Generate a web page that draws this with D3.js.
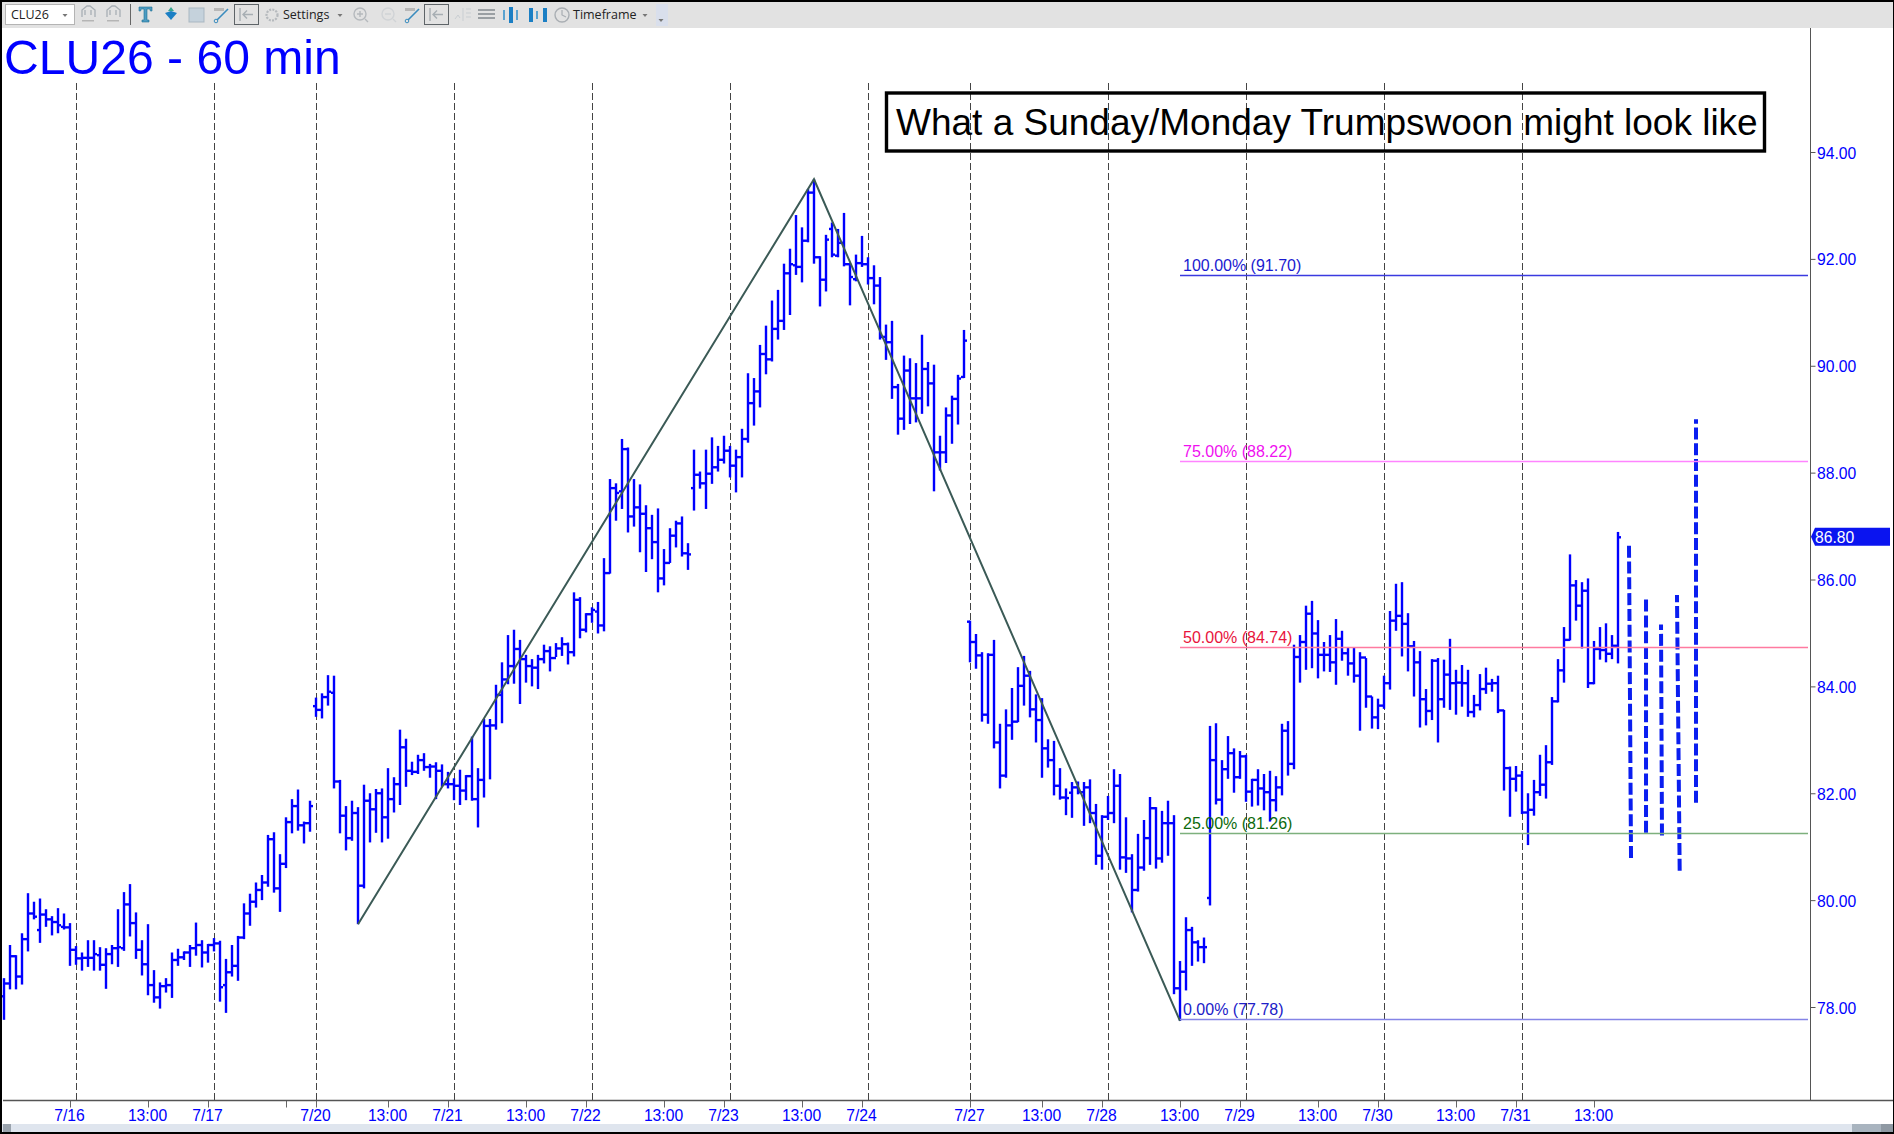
<!DOCTYPE html>
<html><head><meta charset="utf-8">
<script src="https://cdn.jsdelivr.net/npm/d3@7/dist/d3.min.js"></script>
<style>html,body{margin:0;padding:0;background:#fff;overflow:hidden}svg{display:block}text{font-family:"Liberation Sans",Arial,sans-serif}</style>
</head><body><svg id="c" width="1894" height="1134"></svg>
<script>
const highs=[78.54,79.16,78.97,79.38,80.13,79.97,80.03,79.83,79.70,79.85,79.75,79.57,79.14,79.02,79.25,79.25,79.12,79.10,79.16,79.83,
80.15,80.30,79.77,79.25,79.55,78.69,78.46,78.54,79.02,79.09,79.04,79.16,79.58,79.25,79.18,79.29,79.24,78.90,79.16,79.33,
79.94,80.12,80.33,80.47,81.22,81.27,80.86,81.55,81.89,82.07,81.47,81.86,83.79,83.87,84.21,84.20,82.25,81.76,81.86,81.74,
82.16,82.00,82.08,82.09,82.47,82.30,83.19,83.02,82.59,82.72,82.75,82.55,82.58,82.54,82.40,82.28,82.44,82.34,83.06,82.47,
83.39,83.39,84.03,84.45,84.96,85.06,84.87,84.59,84.51,84.59,84.78,84.75,84.81,84.92,84.82,85.76,85.67,85.37,85.48,85.58,
86.40,87.88,87.80,88.63,88.47,87.88,87.78,87.39,87.21,87.33,86.57,86.96,87.10,87.18,86.68,88.43,88.02,88.43,88.66,88.50,
88.69,88.50,88.43,88.82,89.86,89.77,90.39,90.75,91.22,91.42,91.91,92.19,92.82,92.59,93.31,93.49,92.05,92.45,92.68,92.56,
92.86,91.92,92.08,92.43,92.03,91.88,91.66,90.77,90.84,89.66,90.19,90.14,90.05,90.58,90.07,90.02,88.69,89.22,89.44,89.83,
90.67,85.23,84.98,84.64,84.62,84.87,83.30,83.57,83.97,84.36,84.57,84.29,83.85,83.78,83.01,82.98,82.47,82.09,82.21,82.22,
82.21,82.26,81.80,81.59,81.95,82.45,82.36,81.55,80.86,81.24,81.50,81.93,81.74,81.67,81.86,81.59,78.86,79.68,79.50,79.25,
79.30,83.26,83.31,82.62,83.07,82.84,82.79,82.72,82.27,82.45,82.36,82.42,82.32,83.30,83.35,84.78,84.96,85.51,85.60,85.24,
84.83,84.96,85.26,85.04,84.73,84.73,84.64,84.53,83.81,83.77,84.20,85.41,85.92,85.95,85.37,84.85,84.66,83.95,84.51,84.53,
84.50,84.89,84.31,84.40,84.31,83.84,84.23,84.35,84.14,84.20,83.56,82.50,82.51,82.42,82.00,82.25,82.72,82.90,83.80,84.51,
85.11,86.47,85.99,85.95,86.02,84.85,85.11,85.18,84.96,86.89];
const lows=[77.76,78.33,78.33,78.42,79.04,79.64,79.20,79.50,79.34,79.38,79.45,78.77,78.79,78.68,78.75,78.68,78.68,78.34,78.80,78.75,
79.05,79.32,78.90,78.59,78.22,78.08,77.97,78.27,78.17,78.77,78.88,78.75,78.96,78.74,78.83,79.04,78.10,77.89,78.57,78.49,
79.27,79.52,79.86,80.00,80.25,80.14,79.78,80.60,81.25,81.30,81.06,81.28,83.43,83.40,83.64,82.09,81.25,80.93,81.11,79.55,
80.22,81.08,81.26,81.08,81.15,81.64,81.78,82.12,82.34,82.36,82.42,82.29,81.89,82.12,82.09,81.87,81.78,81.87,81.86,81.36,
81.92,82.26,83.19,83.31,84.04,84.05,83.67,84.07,84.00,83.95,84.43,84.28,84.55,84.57,84.41,84.56,84.90,85.01,85.19,84.99,
85.03,86.11,87.10,87.32,86.88,86.99,86.51,86.14,86.38,85.76,85.89,86.31,86.60,86.43,86.18,87.29,87.70,87.32,87.79,88.02,
88.17,87.91,87.63,87.91,88.56,88.88,89.22,89.84,90.08,90.49,90.67,90.95,91.70,91.56,92.31,91.91,91.11,91.39,92.03,92.03,
91.86,91.13,91.58,91.85,91.52,91.15,90.49,90.11,89.38,88.71,88.80,88.91,88.94,89.10,89.24,87.65,88.04,88.18,88.54,88.90,
89.77,84.45,84.33,83.34,83.30,82.84,82.09,82.29,83.00,83.33,83.64,83.42,82.95,82.29,82.48,81.96,81.88,81.59,81.54,81.98,
81.39,81.44,80.66,80.57,81.50,81.44,80.57,80.51,79.77,80.16,80.55,80.66,80.59,80.70,80.83,78.24,77.74,78.31,78.77,78.85,
78.82,79.90,81.79,81.58,82.27,82.01,82.27,81.84,81.75,81.77,81.68,81.47,81.66,81.96,82.33,82.45,84.07,84.31,84.34,84.15,
84.28,84.27,84.03,84.48,84.20,84.07,83.17,83.60,83.21,83.20,83.58,83.94,85.04,84.56,84.28,83.81,83.23,83.27,83.37,82.95,
83.60,83.56,83.47,83.62,83.43,83.42,83.55,83.86,83.90,83.50,82.05,81.56,82.03,81.61,81.03,81.58,81.95,81.90,82.53,83.70,
84.07,84.86,85.23,84.71,83.97,84.04,84.50,84.45,84.51,84.43];
const opens=[78.20,78.44,78.95,78.57,79.27,79.75,79.44,79.73,79.64,79.59,79.50,79.49,79.07,78.91,78.92,78.92,78.97,78.79,78.99,79.10,
79.10,79.92,79.57,79.07,78.80,78.41,78.18,78.39,78.41,78.88,78.93,79.02,79.10,79.16,79.02,79.16,79.19,78.41,78.65,78.77,
79.30,79.75,79.97,80.19,80.33,81.14,80.22,80.68,81.46,81.76,81.40,81.44,83.63,83.56,83.80,83.88,82.22,81.58,81.16,81.63,
80.27,81.86,81.70,82.00,81.55,81.89,82.17,82.86,82.42,82.40,82.62,82.49,82.50,82.42,82.17,82.17,82.14,82.05,82.32,81.89,
82.25,83.26,83.27,83.84,84.13,84.38,84.70,84.51,84.38,84.35,84.51,84.66,84.53,84.71,84.79,84.64,85.62,85.06,85.35,85.40,
85.14,86.12,87.71,87.65,88.44,87.18,87.35,87.23,86.96,86.70,86.02,86.31,86.82,87.05,86.49,87.71,87.96,87.80,87.98,88.10,
88.24,88.41,88.13,88.29,88.63,89.30,89.52,90.22,90.12,90.69,90.84,91.73,91.88,91.85,92.34,93.24,92.03,91.61,92.56,92.06,
92.30,91.90,91.62,91.92,91.90,91.64,91.50,90.54,90.44,89.60,89.01,89.91,89.39,89.39,89.94,89.67,88.38,88.38,89.07,89.38,
89.79,85.21,84.83,84.58,83.47,84.59,82.95,82.33,83.27,83.34,84.01,84.20,83.57,83.37,82.84,82.62,82.14,81.92,82.01,82.11,
82.02,82.11,81.63,80.83,81.56,81.63,82.14,80.80,80.78,80.19,80.61,81.16,81.72,80.78,81.44,81.44,78.35,78.66,79.44,79.21,
79.12,80.04,82.62,81.88,82.45,82.75,82.30,82.69,82.03,82.25,82.09,82.02,81.87,82.11,83.17,82.55,84.55,84.83,85.36,84.99,
84.59,84.59,84.45,84.89,84.62,84.43,84.20,84.54,83.81,83.42,83.64,84.06,85.23,85.32,85.17,84.75,84.45,83.76,83.54,84.48,
83.76,84.22,84.06,84.07,84.06,83.52,83.65,83.95,84.05,84.06,83.55,82.47,82.27,82.33,81.64,81.69,82.02,82.16,82.58,83.72,
84.30,84.87,85.89,85.51,85.79,84.06,84.70,84.68,84.61,84.76];
const closes=[78.44,78.95,78.57,79.27,79.75,79.69,79.73,79.64,79.59,79.53,79.49,79.07,78.91,78.92,78.92,78.99,78.79,78.99,79.10,79.12,
79.92,79.57,79.07,78.80,78.41,78.18,78.39,78.41,78.88,78.93,79.02,79.10,79.16,79.02,79.16,79.19,78.37,78.65,78.77,79.30,
79.75,79.97,80.19,80.33,81.14,80.22,80.68,81.46,81.76,81.40,81.44,81.76,83.56,83.80,83.90,82.22,81.58,81.16,81.63,80.27,
81.86,81.70,82.00,81.55,81.89,82.17,82.86,82.42,82.40,82.62,82.49,82.50,82.42,82.17,82.17,82.14,82.05,82.32,81.89,82.25,
83.26,83.27,83.84,84.13,84.38,84.70,84.51,84.38,84.35,84.51,84.66,84.53,84.71,84.79,84.64,85.62,85.06,85.35,85.43,85.14,
86.12,87.71,87.62,88.44,87.18,87.35,87.23,86.96,86.70,86.02,86.31,86.82,87.05,86.49,86.47,87.96,87.80,87.98,88.10,88.24,
88.41,88.13,88.29,88.63,89.30,89.52,90.22,90.12,90.69,90.84,91.73,91.90,91.85,92.34,93.24,92.03,91.61,92.36,92.08,92.30,
91.90,91.66,91.92,91.90,91.64,91.50,90.54,90.44,89.60,89.01,89.91,89.39,89.39,89.94,89.67,88.38,88.38,89.07,89.38,89.76,
90.47,84.83,84.58,83.47,84.59,82.95,82.33,83.27,83.34,84.01,84.20,83.57,83.37,82.84,82.62,82.14,81.92,81.91,82.11,82.02,
82.11,81.63,80.83,81.56,81.63,82.14,80.80,80.78,80.19,80.61,81.16,81.72,80.78,81.44,81.44,78.35,78.66,79.44,79.21,79.12,
79.12,82.62,81.88,82.45,82.75,82.30,82.69,82.03,82.25,82.09,82.02,81.87,82.11,83.17,82.55,84.55,84.83,85.36,84.99,84.59,
84.59,84.45,84.89,84.62,84.43,84.20,84.54,83.81,83.42,83.64,84.06,85.23,85.32,85.17,84.75,84.45,83.76,83.54,84.48,83.76,
84.22,84.06,84.07,84.06,83.52,83.65,83.95,84.05,84.06,83.55,82.47,82.27,82.33,81.64,81.69,82.02,82.16,82.58,83.72,84.30,
84.87,85.89,85.51,85.79,84.06,84.70,84.68,84.61,84.76,86.79];
const priceTicks=[78,80,82,84,86,88,90,92,94];
const timeTickBars=[11,24,34,47,52,64,74,87,97,110,120,133,143,161,173,183,196,206,219,229,242,252,265];
const timeTickLabels=["7/16","13:00","7/17","","7/20","13:00","7/21","13:00","7/22","13:00","7/23","13:00","7/24","7/27","13:00","7/28","13:00","7/29","13:00","7/30","13:00","7/31","13:00"];
const sessionBars=[12,35,52,75,98,121,144,161,184,207,230,253];
const fibPct=["0.00%","25.00%","50.00%","75.00%","100.00%"];
const fibVal=[77.78,81.26,84.74,88.22,91.70];
const fibLine=["#8484e6","#7db07d","#ff7aa0","#ff84ff","#3a3ae0"];
const fibText=["#2020c8","#0c6a0c","#e8143c","#f010f0","#1a1ad0"];
const swingBars=[59,135,196];
const swingPrices=[79.55,93.49,77.74];
const projTopBar=[270.83,273.67,276.17,278.83,282];
const projBotBar=[271.17,273.67,276.33,279.28,282];
const projHigh=[86.66,85.64,85.16,85.71,89.00];
const projLow=[80.79,81.26,81.21,80.55,81.82];
const lastPrice=86.80;

const svg=d3.select("#c");
const x=d3.scaleLinear().domain([0,269]).range([4,1618]);
const y=d3.scaleLinear().domain([78,94]).range([1007,152]);
const BLUE="#0000ff";

// toolbar and frame
svg.append("rect").attr("width",1894).attr("height",28).attr("fill","#e2e2e2");
const tb=svg.append("g");
tb.append("rect").attr("x",656).attr("y",4).attr("width",12).attr("height",22).attr("fill","#d9dfec");
tb.append("rect").attr("x",5.5).attr("y",4.5).attr("width",69).attr("height",20).attr("fill","#fff").attr("stroke","#b4b4b4");
const tbText=(s,px,col)=>tb.append("text").attr("x",px).attr("y",19).attr("font-size",12.5).attr("fill",col||"#222").style("font-family","'Open Sans',sans-serif").text(s);
tbText("CLU26",11);
tbText("Settings",283);
tbText("Timeframe",573);
[65,340,645,661].forEach(a=>tb.append("path").attr("d",`M${a-2.5} ${a===661?19:14}h5l-2.5 3z`).attr("fill","#777"));
[88,113].forEach(a=>{tb.append("path").attr("d",`M${a-6} 17v-7l5-4h3l5 4v7M${a-3} 15v-5M${a+3} 15v-5`).attr("fill","none").attr("stroke","#a8afb5").attr("stroke-width",1.3);tb.append("rect").attr("x",a-6).attr("y",20).attr("width",12).attr("height",1.5).attr("fill","#b5b5b5");});
tb.append("rect").attr("x",130).attr("y",4).attr("width",1).attr("height",21).attr("fill","#666");
tb.append("path").attr("d","M139 7h13v4h-1.6l-.6-2h-2.8v11h2v2h-7v-2h2V9h-2.8l-.6 2H139z").attr("fill","#4d9cc2").attr("stroke","#1d6f96").attr("stroke-width",.6);
tb.append("path").attr("d","M165 13l6-2 6 2-6 7z").attr("fill","#1b7fc4");
tb.append("path").attr("d","M168 11l3-4 3 4z").attr("fill","#37a58f");
tb.append("rect").attr("x",189).attr("y",8).attr("width",15).attr("height",14).attr("fill","#c5d2dc").attr("stroke","#a9b7c2");
[221,412].forEach(a=>{tb.append("path").attr("d",`M${a-7} 8h10v3h-10z`).attr("fill","#b8b8b8");tb.append("path").attr("d",`M${a+7} 9l-11 11`).attr("stroke","#3a8cbe").attr("stroke-width",1.6);tb.append("circle").attr("cx",a-5).attr("cy",21).attr("r",1.8).attr("fill","none").attr("stroke","#3a8cbe");});
[234,424].forEach(a=>{tb.append("rect").attr("x",a+.5).attr("y",4.5).attr("width",24).attr("height",20).attr("fill","none").attr("stroke","#5e6468");tb.append("path").attr("d",`M${a+6} 8v13M${a+9} 14.5h10M${a+13} 10.5l-4 4 4 4`).attr("fill","none").attr("stroke","#a7aeb3").attr("stroke-width",1.4);});
tb.append("circle").attr("cx",272).attr("cy",15).attr("r",5.5).attr("fill","none").attr("stroke","#b5b9bd").attr("stroke-width",2.2).attr("stroke-dasharray","2 1.2");
[[360,"M357 14h6M360 11v6"],[388,"M385 14h6"]].forEach(([a,p],k)=>{tb.append("circle").attr("cx",a).attr("cy",14).attr("r",6).attr("fill","none").attr("stroke",k?"#d0d3d6":"#b5b9bd").attr("stroke-width",1.4);tb.append("path").attr("d",p+`M${a+5} 19l3 3`).attr("fill","none").attr("stroke",k?"#d0d3d6":"#b5b9bd").attr("stroke-width",1.4);});
tb.append("path").attr("d","M455 19l3-4 2 3M463 8v13M466 9h5M466 13h5M466 17h5").attr("fill","none").attr("stroke","#c9ced2").attr("stroke-width",1);
tb.append("path").attr("d","M478 10h17M478 14h17M478 18h17").attr("stroke","#9a9fa3").attr("stroke-width",2);
[[503,2,"#5aa3d0",10],[509,4,"#1b7fc4",16],[516,2,"#5aa3d0",10],[529,4,"#1b7fc4",14],[536,2,"#5aa3d0",8],[543,4,"#1b7fc4",14]].forEach(([a,w,c,h])=>tb.append("rect").attr("x",a).attr("y",15-h/2).attr("width",w).attr("height",h).attr("fill",c));
tb.append("circle").attr("cx",562).attr("cy",15).attr("r",7).attr("fill","none").attr("stroke","#a9aeb3").attr("stroke-width",1.4);
tb.append("path").attr("d","M562 10v5l4 2").attr("fill","none").attr("stroke","#a9aeb3").attr("stroke-width",1.2);

// scrollbar
svg.append("rect").attr("x",0).attr("y",1124).attr("width",1894).attr("height",8).attr("fill","#dfe5ee");
svg.append("rect").attr("x",3).attr("y",1124).attr("width",8).attr("height",8).attr("fill","#9aa3ad");
svg.append("rect").attr("x",1852).attr("y",1124).attr("width",29).attr("height",8).attr("fill","#a9b4bf");
svg.append("rect").attr("x",1881).attr("y",1124).attr("width",12).attr("height",8).attr("fill","#8f99a3");

// session separators
svg.append("g").selectAll("line").data(sessionBars).join("line")
 .attr("x1",d=>x(d)+.5).attr("x2",d=>x(d)+.5).attr("y1",83).attr("y2",1100)
 .attr("stroke","#444").attr("stroke-width",1).attr("stroke-dasharray","7 3");

// axes
const yAxis=d3.axisRight(y).tickValues(priceTicks).tickFormat(d3.format(".2f")).tickSize(5).tickSizeOuter(0);
const gy=svg.append("g").attr("transform","translate(1810.5,0)").call(yAxis);
gy.select(".domain").remove();
svg.append("line").attr("x1",1810.5).attr("x2",1810.5).attr("y1",28).attr("y2",1100).attr("stroke","#555");
gy.selectAll(".tick line").attr("stroke","#555");
gy.selectAll(".tick text").attr("x",6.5).attr("y",1).attr("fill",BLUE).attr("font-size",15.7).style("font-family","'Liberation Sans',Arial,sans-serif");

const xAxis=d3.axisBottom(x).tickValues(timeTickBars).tickFormat((d,k)=>timeTickLabels[k]).tickSize(7).tickSizeOuter(0);
const gx=svg.append("g").attr("transform","translate(0,1100.5)").call(xAxis);
gx.select(".domain").remove();
svg.append("line").attr("x1",3).attr("x2",1893).attr("y1",1100.5).attr("y2",1100.5).attr("stroke","#555").attr("stroke-width",1.4);
gx.selectAll(".tick line").attr("stroke","#666");
gx.selectAll(".tick text").attr("y",9).attr("dx",-1).attr("fill",BLUE).attr("font-size",15.7).style("font-family","'Liberation Sans',Arial,sans-serif");

// OHLC bars
const rows=d3.range(highs.length);
const bars=svg.append("g").attr("stroke",BLUE).attr("stroke-width",2.4);
bars.selectAll(".st").data(rows).join("line").attr("class","st").attr("x1",i=>x(i)).attr("x2",i=>x(i)).attr("y1",i=>y(highs[i])).attr("y2",i=>y(lows[i]));
bars.selectAll(".op").data(rows).join("line").attr("class","op").attr("x1",i=>x(i)-3).attr("x2",i=>x(i)).attr("y1",i=>y(opens[i])).attr("y2",i=>y(opens[i]));
bars.selectAll(".cl").data(rows).join("line").attr("class","cl").attr("x1",i=>x(i)).attr("x2",i=>x(i)+3).attr("y1",i=>y(closes[i])).attr("y2",i=>y(closes[i]));

// projected dashed bars (drawn from the bottom up)
svg.append("g").selectAll("line").data(d3.range(projHigh.length)).join("line")
 .attr("x1",i=>x(projBotBar[i])).attr("x2",i=>x(projTopBar[i])).attr("y1",i=>y(projLow[i])).attr("y2",i=>y(projHigh[i]))
 .attr("stroke","#0a1ef0").attr("stroke-width",4).attr("stroke-dasharray","12 3.8");

// swing line
svg.append("path").datum(d3.range(swingBars.length))
 .attr("d",d3.line().x(i=>x(swingBars[i])).y(i=>y(swingPrices[i])))
 .attr("fill","none").attr("stroke","#3b5a56").attr("stroke-width",2);

// fib levels
const fx0=x(swingBars[2]);
const fib=svg.append("g").selectAll("g").data(d3.range(fibVal.length)).join("g");
fib.append("line").attr("x1",fx0).attr("x2",1808).attr("y1",i=>Math.round(y(fibVal[i]))+.5).attr("y2",i=>Math.round(y(fibVal[i]))+.5)
 .attr("stroke",i=>fibLine[i]).attr("stroke-width",1.6);
fib.append("text").attr("x",fx0+3).attr("y",i=>y(fibVal[i])-3.8).attr("font-size",16).attr("fill",i=>fibText[i])
 .text(i=>`${fibPct[i]} (${fibVal[i].toFixed(2)})`);

// last price tag
const ly=y(lastPrice);
svg.append("path").attr("d",`M1811 ${ly}L1815 ${ly-9}H1890V${ly+9}H1815Z`).attr("fill","#0a14f0");
svg.append("text").attr("x",1815).attr("y",ly+6).attr("font-size",15.7).attr("fill","#fff").text(d3.format(".2f")(lastPrice));

// title and annotation
svg.append("text").attr("x",4).attr("y",74).attr("font-size",48.1).attr("fill",BLUE).text("CLU26 - 60 min");
svg.append("rect").attr("x",886.5).attr("y",93).attr("width",878).attr("height",58).attr("fill","none").attr("stroke","#000").attr("stroke-width",3.4);
svg.append("text").attr("x",896).attr("y",135).attr("font-size",37).attr("fill","#000").text("What a Sunday/Monday Trumpswoon might look like");

// window frame
[[0,0,1894,2],[0,0,2,1134],[1893,0,1,1134],[0,1132,1894,2]].forEach(([a,b,w,h])=>svg.append("rect").attr("x",a).attr("y",b).attr("width",w).attr("height",h).attr("fill","#000"));
</script></body></html>
